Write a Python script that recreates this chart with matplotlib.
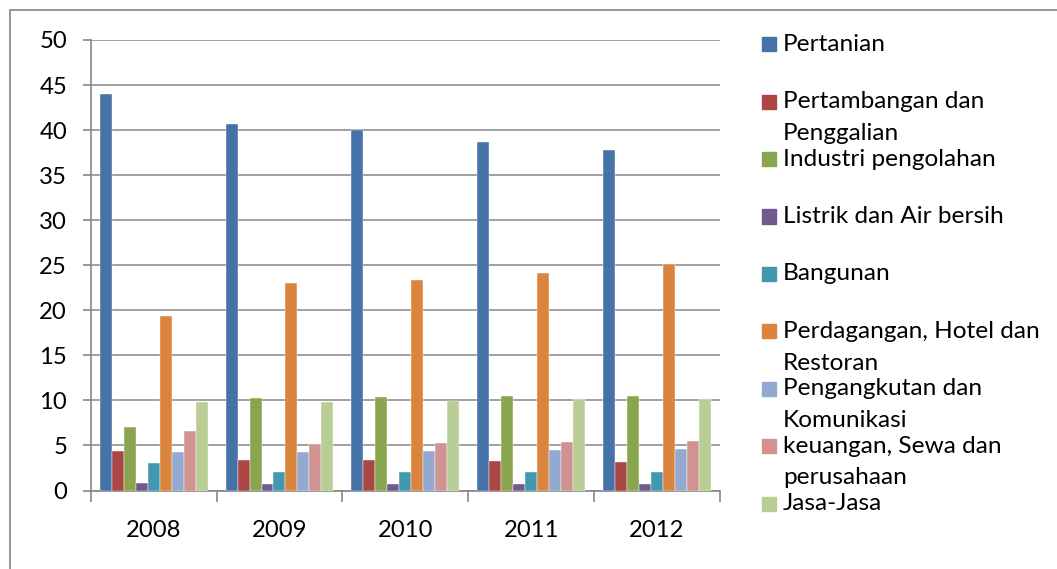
import matplotlib
matplotlib.use("Agg")
import matplotlib.pyplot as plt
import numpy as np
from matplotlib.patches import Rectangle
from matplotlib.lines import Line2D

years = ["2008", "2009", "2010", "2011", "2012"]
series_names = [
    "Pertanian",
    "Pertambangan dan\nPenggalian",
    "Industri pengolahan",
    "Listrik dan Air bersih",
    "Bangunan",
    "Perdagangan, Hotel dan\nRestoran",
    "Pengangkutan dan\nKomunikasi",
    "keuangan, Sewa dan\nperusahaan",
    "Jasa-Jasa",
]
pertanian = [44.0, 40.7, 40.0, 38.7, 37.8]
pertambangan = [4.4, 3.35, 3.35, 3.3, 3.15]
industri = [7.05, 10.3, 10.4, 10.5, 10.5]
listrik = [0.8, 0.75, 0.75, 0.75, 0.75]
bangunan = [3.05, 2.05, 2.05, 2.05, 2.05]
perdagangan = [19.4, 23.0, 23.4, 24.1, 25.1]
pengangkutan = [4.3, 4.3, 4.4, 4.5, 4.6]
keuangan = [6.6, 5.2, 5.3, 5.4, 5.5]
jasa = [9.8, 9.8, 9.9, 10.1, 10.1]
series_values = [pertanian, pertambangan, industri, listrik, bangunan,
                 perdagangan, pengangkutan, keuangan, jasa]
colors = ["#4572A7", "#AA4643", "#89A54E", "#71588F", "#4198AF",
          "#DB843D", "#93A9CF", "#D19392", "#B9CD96"]

W, H = 1057, 569
plt.rcParams['font.family'] = ['Lato', 'DejaVu Sans']
fig = plt.figure(figsize=(W / 100, H / 100), dpi=100)
fig.patch.set_facecolor("white")

ax_l, ax_r, ax_t, ax_b = 90.7, 720, 40, 490.5
ax = fig.add_axes([ax_l / W, 1 - ax_b / H, (ax_r - ax_l) / W, (ax_b - ax_t) / H])

grey = "#868686"
n = len(series_values)
x = np.arange(len(years))
bw = 1.0 / (n + 1.5)
for i, (vals, c) in enumerate(zip(series_values, colors)):
    ax.bar(x - n * bw / 2 + (i + 0.5) * bw, vals, width=bw, color=c,
           edgecolor="white", linewidth=0.3, zorder=3)

ax.set_xlim(-0.5, len(years) - 0.5)
ax.set_ylim(0, 50)
ax.set_yticks(np.arange(0, 51, 5))
ax.yaxis.grid(True, color=grey, linewidth=1.1, zorder=0)
ax.set_axisbelow(True)
for s in ["top", "right"]:
    ax.spines[s].set_visible(False)
for s in ["left", "bottom"]:
    ax.spines[s].set_color(grey)
    ax.spines[s].set_linewidth(1.2)

ax.set_xticks(np.arange(-0.5, len(years), 1.0))
ax.set_xticklabels([])
ax.set_xticks(x, minor=True)
ax.set_xticklabels(years, minor=True)
ax.tick_params(axis="x", which="major", length=8, width=1.2, color=grey, direction="out")
ax.tick_params(axis="x", which="minor", length=0, pad=21, labelsize=17.2)
ax.tick_params(axis="y", length=6, width=1.2, color=grey, direction="out",
               pad=11, labelsize=17.2)

# legend drawn manually
sq = 14
y0, step, line_gap = 44.3, 57.4, 31.7
for i, (name, c) in enumerate(zip(series_names, colors)):
    yc = y0 + i * step
    fig.patches.append(Rectangle((762 / W, 1 - (yc + sq / 2) / H), sq / W, sq / H,
                                 transform=fig.transFigure, color=c))
    for k, line in enumerate(name.split("\n")):
        fig.text(783 / W, 1 - (yc + k * line_gap) / H, line, fontsize=17.6,
                 va="center", ha="left", color="black")

# outer chart frame
fig.add_artist(Line2D([10 / W, 10 / W, 1.0], [0.0, 1 - 10 / H, 1 - 10 / H],
                      transform=fig.transFigure, color="#8c8c8c", linewidth=1.3))

fig.savefig("out.png", dpi=100)
